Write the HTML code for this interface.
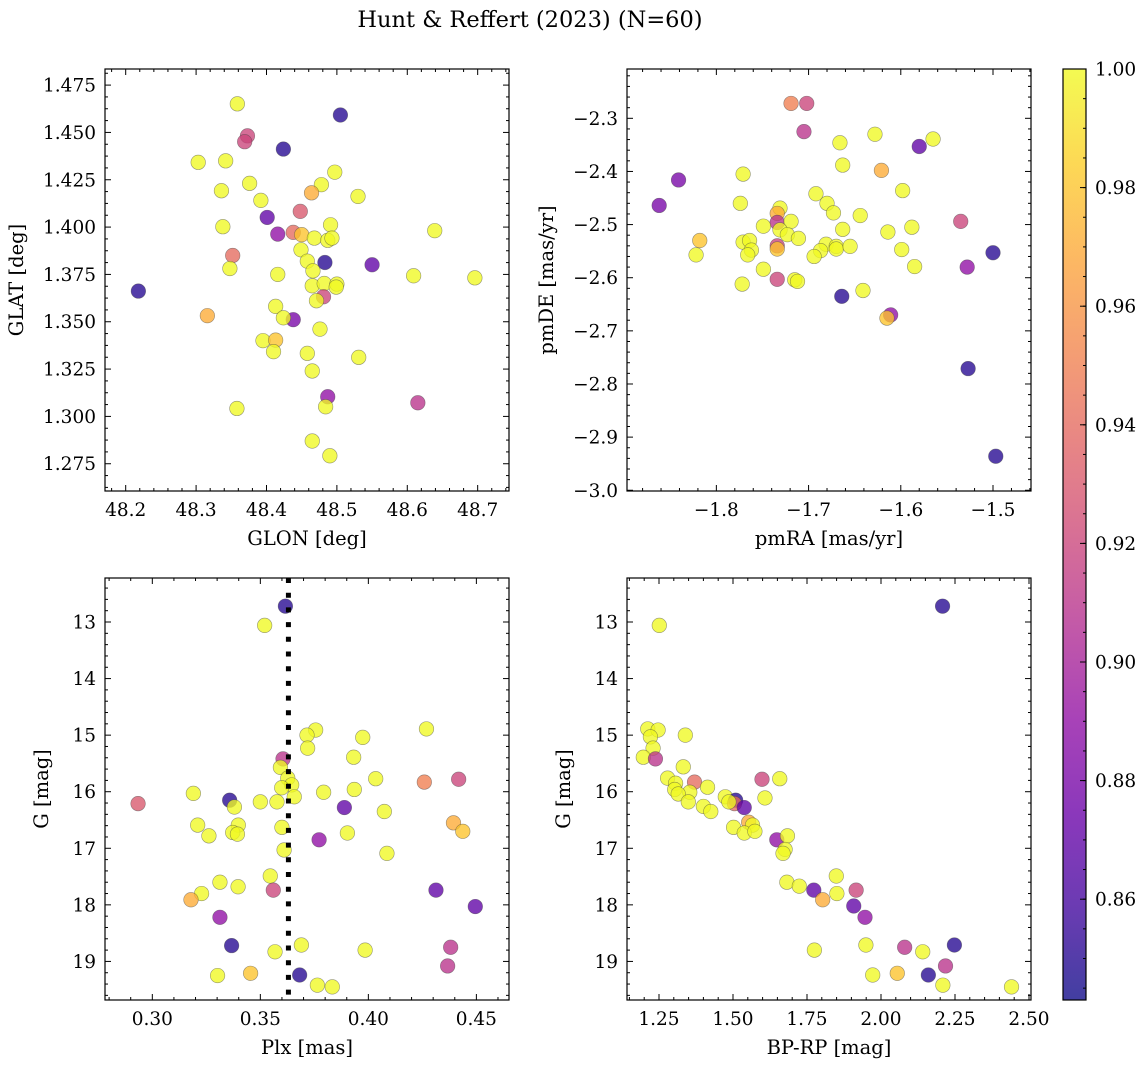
<!DOCTYPE html>
<html><head><meta charset="utf-8"><style>
body{margin:0;background:#fff}
svg{display:block;font-family:"DejaVu Serif","Liberation Serif",serif}
</style></head><body>
<svg id="fig" width="1148" height="1068" viewBox="0 0 1148 1068" xmlns="http://www.w3.org/2000/svg">
<text x="530" y="27" font-size="22.5" text-anchor="middle">Hunt &amp; Reffert (2023) (N=60)</text>
</svg>
<script>
// ---- data ----
const glonVals=[48.3586,48.505,48.373,48.369,48.424,48.303,48.342,48.497,48.376,48.478,48.336,48.464,48.530,48.392,48.448,48.401,48.338,48.491,48.639,48.416,48.438,48.450,48.468,48.487,48.493,48.449,48.352,48.458,48.483,48.550,48.348,48.466,48.416,48.609,48.696,48.465,48.482,48.500,48.499,48.481,48.471,48.218,48.413,48.316,48.438,48.424,48.476,48.395,48.413,48.410,48.458,48.531,48.465,48.487,48.615,48.484,48.358,48.465,48.490];
const glatVals=[1.4651,1.4592,1.4482,1.4451,1.4412,1.4342,1.4350,1.4290,1.4231,1.4224,1.4192,1.4181,1.4162,1.4141,1.4083,1.4051,1.4002,1.4012,1.3981,1.3963,1.3972,1.3960,1.3942,1.3930,1.3942,1.3880,1.3850,1.3820,1.3813,1.3801,1.3781,1.3769,1.3750,1.3743,1.3732,1.3690,1.3702,1.3699,1.3683,1.3632,1.3611,1.3662,1.3581,1.3532,1.3511,1.3521,1.3461,1.3400,1.3403,1.3342,1.3333,1.3312,1.3240,1.3104,1.3072,1.3051,1.3042,1.2870,1.2792];
const probA=[1,0.85,0.92,0.92,0.85,1,1,1,1,1,1,0.97,1,1,0.93,0.87,1,1,1,0.89,0.94,0.98,1,1,1,1,0.94,1,0.85,0.87,1,1,1,1,1,1,1,1,1,0.92,1,0.85,1,0.97,0.88,1,1,1,0.98,1,1,1,1,0.89,0.91,1,1,1,1];

const pmraVals=[-1.719,-1.702,-1.705,-1.666,-1.628,-1.580,-1.565,-1.841,-1.862,-1.771,-1.663,-1.621,-1.774,-1.598,-1.692,-1.680,-1.673,-1.644,-1.731,-1.734,-1.734,-1.719,-1.749,-1.731,-1.723,-1.711,-1.663,-1.614,-1.588,-1.535,-1.818,-1.822,-1.771,-1.764,-1.762,-1.766,-1.734,-1.734,-1.681,-1.687,-1.694,-1.670,-1.670,-1.655,-1.599,-1.585,-1.500,-1.528,-1.749,-1.772,-1.734,-1.715,-1.712,-1.664,-1.641,-1.611,-1.615,-1.527,-1.497];
const pmdeVals=[-2.272,-2.272,-2.325,-2.346,-2.330,-2.353,-2.339,-2.416,-2.464,-2.405,-2.388,-2.398,-2.460,-2.436,-2.442,-2.460,-2.478,-2.483,-2.469,-2.479,-2.496,-2.494,-2.503,-2.510,-2.519,-2.526,-2.509,-2.514,-2.505,-2.494,-2.530,-2.557,-2.533,-2.530,-2.548,-2.557,-2.540,-2.546,-2.537,-2.549,-2.560,-2.541,-2.546,-2.541,-2.547,-2.579,-2.553,-2.580,-2.584,-2.612,-2.603,-2.604,-2.607,-2.635,-2.624,-2.670,-2.676,-2.771,-2.936];
const probB=[0.95,0.92,0.91,1,1,0.87,1,0.88,0.88,1,1,0.97,1,1,1,1,1,1,1,0.97,0.91,1,1,1,1,1,1,1,1,0.92,0.98,1,1,1,1,1,0.92,0.98,1,1,1,1,1,1,1,1,0.85,0.89,1,1,0.92,1,1,0.85,1,0.89,0.98,0.85,0.85];

const plxVals=[0.3616,0.3520,0.3756,0.3716,0.3974,0.4269,0.3719,0.3932,0.3605,0.3593,0.3627,0.4034,0.4259,0.4418,0.3645,0.3599,0.3935,0.3793,0.3190,0.3657,0.2934,0.3358,0.3500,0.3577,0.3380,0.3889,0.4074,0.3210,0.3398,0.3262,0.3372,0.3394,0.3600,0.4394,0.4437,0.3903,0.3772,0.3610,0.4086,0.3546,0.3313,0.3397,0.3560,0.3228,0.3179,0.4313,0.4495,0.3313,0.3367,0.3568,0.3690,0.3985,0.4381,0.4367,0.3302,0.3455,0.3682,0.3764,0.3833];
const gValsC=[12.72,13.06,14.91,15.00,15.04,14.89,15.23,15.39,15.42,15.57,15.76,15.77,15.83,15.78,15.88,15.93,15.96,16.01,16.03,16.09,16.21,16.15,16.18,16.18,16.27,16.28,16.35,16.59,16.59,16.78,16.72,16.75,16.63,16.55,16.70,16.73,16.85,17.03,17.09,17.49,17.60,17.68,17.74,17.80,17.91,17.74,18.03,18.22,18.72,18.83,18.71,18.80,18.75,19.08,19.25,19.21,19.24,19.42,19.45];
const probC=[0.85,1,1,1,1,1,1,1,0.91,1,1,1,0.95,0.92,1,1,1,1,1,1,0.93,0.85,1,1,1,0.87,1,1,1,1,1,1,1,0.97,0.98,1,0.89,1,1,1,1,1,0.92,1,0.97,0.87,0.87,0.89,0.85,1,1,1,0.91,0.91,1,0.98,0.85,1,1];
const plxLine=0.3630;

const bprpVals=[2.208,1.251,1.212,1.247,1.339,1.221,1.230,1.197,1.238,1.332,1.279,1.306,1.370,1.598,1.658,1.414,1.303,1.354,1.315,1.474,1.608,1.509,1.505,1.486,1.538,1.349,1.400,1.425,1.502,1.553,1.566,1.538,1.574,1.648,1.684,1.676,1.669,1.849,1.682,1.724,1.773,1.851,1.803,1.916,1.908,1.946,1.775,1.949,2.080,2.141,2.248,2.218,1.972,2.055,2.160,2.209,2.441];
const gValsD=[12.72,13.06,14.89,14.91,15.00,15.03,15.23,15.39,15.42,15.56,15.76,15.85,15.83,15.78,15.77,15.92,15.96,16.01,16.04,16.09,16.11,16.15,16.21,16.18,16.28,16.18,16.26,16.35,16.63,16.54,16.59,16.73,16.70,16.85,16.78,17.02,17.09,17.49,17.60,17.67,17.74,17.80,17.91,17.74,18.02,18.22,18.80,18.71,18.75,18.83,18.71,19.08,19.24,19.21,19.24,19.42,19.45];
const probD=[0.85,1,1,1,1,1,1,1,0.91,1,1,1,0.94,0.92,1,1,1,1,1,1,1,0.85,0.94,1,0.87,1,1,1,1,0.97,1,1,1,0.89,1,1,1,1,1,1,0.87,1,0.97,0.92,0.87,0.89,1,1,0.91,1,0.85,0.91,1,0.98,0.85,1,1];

const cbTicks=[0.86,0.88,0.90,0.92,0.94,0.96,0.98,1.00];
const pMin=0.843,pMax=1.0;

// ---- helpers ----
const NS="http://www.w3.org/2000/svg";
const fig=document.getElementById('fig');
const TICK_FS=18.5, LAB_FS=19.5;
function mk(tag,attrs,parent){const e=document.createElementNS(NS,tag);for(const k in attrs)e.setAttribute(k,attrs[k]);(parent||fig).appendChild(e);return e;}
const stops=[[13,8,135],[65,4,157],[106,0,168],[143,13,164],[177,42,144],[204,71,120],[225,100,98],[242,132,75],[252,166,54],[252,206,37],[240,249,33]];
function plasma(t){t=Math.max(0,Math.min(1,t));const f=t*10,i=Math.min(9,Math.floor(f)),u=f-i;const a=stops[i],b=stops[i+1];return `rgb(${Math.round(a[0]+(b[0]-a[0])*u)},${Math.round(a[1]+(b[1]-a[1])*u)},${Math.round(a[2]+(b[2]-a[2])*u)})`;}
const minus=s=>s.replace('-','\u2212');

function panel(cfg){
  const {name,L,T,R,B,xmin,xmax,ymin,ymax,yInv,xMaj,xMin,yMaj,yMin,xd,yd,xlab,ylab}=cfg;
  const g=mk('g',{});
  
  
  const sx=v=>L+(v-xmin)/(xmax-xmin)*(R-L);
  const sy=v=>yInv?T+(v-ymin)/(ymax-ymin)*(B-T):B-(v-ymin)/(ymax-ymin)*(B-T);
  const ax=mk('g',{},g);
  
  
  const tk=(x1,y1,x2,y2)=>mk('line',{x1,y1,x2,y2,stroke:'#000','stroke-width':1},ax);
  const ticks=(mj,mn,lo,hi)=>{const out=[];const n=Math.round((hi-lo)/mn);for(let i=0;i<=n;i++){const v=lo+i*mn;out.push([v,Math.abs(v/mj-Math.round(v/mj))<1e-6]);}return out;};
  const xs0=Math.ceil(xmin/cfg.xMin-1e-9)*cfg.xMin;
  for(const [v,maj] of ticks(xMaj,xMin,xs0,xmax)){const x=sx(v);if(x<L-0.5||x>R+0.5)continue;const l=maj?6:3;tk(x,B,x,B-l);tk(x,T,x,T+l);
    if(maj){const t=mk('text',{x,y:B+25,'font-size':TICK_FS,'text-anchor':'middle'},ax);t.textContent=minus(v.toFixed(xd));}}
  const lo=Math.min(ymin,ymax),hi=Math.max(ymin,ymax);
  const ys0=Math.ceil(lo/yMin-1e-9)*yMin;
  for(const [v,maj] of ticks(yMaj,yMin,ys0,hi)){const y=sy(v);if(y<T-0.5||y>B+0.5)continue;const l=maj?6:3;tk(L,y,L+l,y);tk(R,y,R-l,y);
    if(maj){const t=mk('text',{x:L-9,y:y+6.5,'font-size':TICK_FS,'text-anchor':'end'},ax);t.textContent=minus(v.toFixed(yd));}}
  const fr=mk('rect',{x:L,y:T,width:R-L,height:B-T,fill:'none',stroke:'#000','stroke-width':1.2},ax);
  
  
  const xl=mk('text',{x:(L+R)/2,y:B+54,'font-size':LAB_FS,'text-anchor':'middle'},g);xl.textContent=xlab;
  
  
  const yx=L-cfg.ylOff,yy=(T+B)/2;
  const yl=mk('text',{x:yx,y:yy,'font-size':LAB_FS,'text-anchor':'middle',transform:`rotate(-90 ${yx} ${yy})`},g);yl.textContent=ylab;
  
  
  const pts=mk('g',{},g);
  
  
  const {xs,ys,ps}=cfg;
  for(let i=0;i<xs.length;i++){
    const c=mk('circle',{cx:sx(xs[i]),cy:sy(ys[i]),r:7.3,fill:plasma((ps[i]-pMin)/(pMax-pMin)),'fill-opacity':0.78,stroke:'#444','stroke-opacity':0.55,'stroke-width':0.6},pts);
    
    
  }
  if(cfg.vline!==undefined){const vl=mk('line',{x1:sx(cfg.vline),x2:sx(cfg.vline),y1:T,y2:B,stroke:'#000','stroke-width':5,'stroke-dasharray':'5 9.7'},g);
    
    }
}

panel({name:'glon-glat-panel',L:105,T:69,R:509,B:491,xmin:48.1706,xmax:48.7445,ymin:1.2606,ymax:1.4835,xMaj:0.1,xMin:0.02,yMaj:0.025,yMin:0.00625,xd:1,yd:3,xlab:'GLON [deg]',ylab:'GLAT [deg]',ylOff:82,xs:glonVals,ys:glatVals,ps:probA});
panel({name:'propermotion-panel',L:627,T:69,R:1031,B:491,xmin:-1.8969,xmax:-1.4588,ymin:-3.0014,ymax:-2.2072,xMaj:0.1,xMin:0.02,yMaj:0.1,yMin:0.02,xd:1,yd:1,xlab:'pmRA [mas/yr]',ylab:'pmDE [mas/yr]',ylOff:74,xs:pmraVals,ys:pmdeVals,ps:probB});
panel({name:'parallax-panel',L:105,T:578,R:509,B:1000,xmin:0.2781,xmax:0.4651,ymin:12.222,ymax:19.682,yInv:true,xMaj:0.05,xMin:0.01,yMaj:1,yMin:0.2,xd:2,yd:0,xlab:'Plx [mas]',ylab:'G [mag]',ylOff:57,xs:plxVals,ys:gValsC,ps:probC,vline:plxLine});
panel({name:'cmd-panel',L:627,T:578,R:1031,B:1000,xmin:1.1419,xmax:2.5068,ymin:12.222,ymax:19.682,yInv:true,xMaj:0.25,xMin:0.05,yMaj:1,yMin:0.2,xd:2,yd:0,xlab:'BP-RP [mag]',ylab:'G [mag]',ylOff:57,xs:bprpVals,ys:gValsD,ps:probD});

// ---- colorbar ----
(function(){
  const L=1063,R=1086,T=69,B=1000;
  const cb=mk('g',{});
  
  
  const defs=mk('defs',{},cb);
  const lg=mk('linearGradient',{id:'plasmaGrad',x1:0,y1:1,x2:0,y2:0},defs);
  for(let i=0;i<=20;i++){mk('stop',{offset:i/20,'stop-color':plasma(i/20)},lg);}
  mk('rect',{x:L,y:T,width:R-L,height:B-T,fill:'url(#plasmaGrad)','fill-opacity':0.78},cb);
  const sy=v=>B-(v-pMin)/(pMax-pMin)*(B-T);
  for(let v=0.845;v<=1.0001;v+=0.005){const y=sy(v);mk('line',{x1:R,x2:R-3,y1:y,y2:y,stroke:'#000','stroke-width':1},cb);}
  for(const v of cbTicks){const y=sy(v);mk('line',{x1:R,x2:R-6,y1:y,y2:y,stroke:'#000','stroke-width':1},cb);
    const t=mk('text',{x:R+9,y:y+6.5,'font-size':TICK_FS},cb);t.textContent=v.toFixed(2);
    
    }
  mk('rect',{x:L,y:T,width:R-L,height:B-T,fill:'none',stroke:'#000','stroke-width':1.2},cb);
})();
</script>
</body></html>
